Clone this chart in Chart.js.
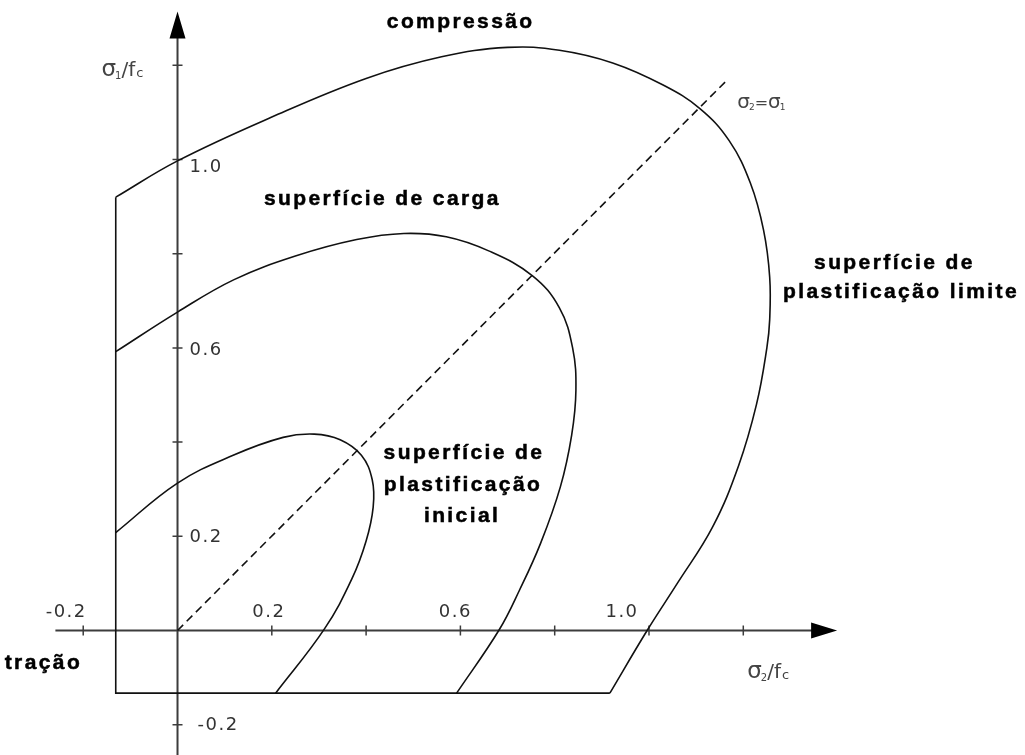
<!DOCTYPE html>
<html>
<head>
<meta charset="utf-8">
<title>Superfícies de plastificação do concreto</title>
<script src="https://cdn.jsdelivr.net/npm/chart.js@4/dist/chart.umd.min.js"></script>
<style>
  html, body { margin: 0; padding: 0; background: #ffffff; }
  #wrap { width: 1025px; height: 755px; position: relative; }
</style>
</head>
<body>
<div id="wrap"><canvas id="chart"></canvas></div>
<script>
// Normalized stresses: x = σ2/fc, y = σ1/fc

// superfície de plastificação limite
const limitX = [-0.131, 0, 0.200, 0.400, 0.560, 0.700, 0.810, 0.923, 1.030, 1.108, 1.170, 1.215, 1.243, 1.256, 1.256, 1.250, 1.228, 1.190, 1.135, 1.060, 0.996, 0.917];
const limitY = [0.920, 0.997, 1.090, 1.172, 1.218, 1.238, 1.232, 1.205, 1.158, 1.108, 1.040, 0.950, 0.850, 0.750, 0.660, 0.600, 0.480, 0.350, 0.220, 0.100, 0.000, -0.133];

// superfície de carga
const loadX = [-0.131, 0, 0.120, 0.250, 0.380, 0.480, 0.570, 0.660, 0.753, 0.810, 0.838, 0.845, 0.836, 0.812, 0.770, 0.725, 0.682, 0.592];
const loadY = [0.592, 0.676, 0.745, 0.795, 0.830, 0.843, 0.836, 0.806, 0.753, 0.685, 0.600, 0.510, 0.415, 0.305, 0.185, 0.085, 0.001, -0.133];

// superfície de plastificação inicial
const initialX = [-0.131, 0, 0.118, 0.224, 0.290, 0.345, 0.390, 0.413, 0.415, 0.400, 0.370, 0.312, 0.208];
const initialY = [0.208, 0.313, 0.372, 0.410, 0.417, 0.405, 0.372, 0.320, 0.262, 0.190, 0.110, 0.004, -0.133];

// tension cut-off shared by all surfaces
const cutoffX = [-0.131, -0.131, 0.917];
const cutoffY = [0.920, -0.133, -0.133];

// σ2 = σ1 line
const diagonalX = [0, 1.168];
const diagonalY = [0, 1.171];

// axes
const xAxisSpan = [-0.259, 1.399];
const yAxisSpan = [-0.27, 1.314];
const xTickValues = [-0.2, 0.2, 0.4, 0.6, 0.8, 1.0, 1.2];
const yTickValues = [-0.2, 0.2, 0.4, 0.6, 0.8, 1.0, 1.2];
const xLabelValues = [-0.2, 0.2, 0.6, 1.0];
const xLabelTexts = ['-0.2', '0.2', '0.6', '1.0'];
const yLabelValues = [-0.2, 0.2, 0.6, 1.0];
const yLabelTexts = ['-0.2', '0.2', '0.6', '1.0'];

// region / surface names
const noteTexts = ['compressão', 'superfície de carga', 'superfície de', 'plastificação limite',
                   'superfície de', 'plastificação', 'inicial', 'tração'];
const noteX = [0.598, 0.432, 1.518, 1.532, 0.605, 0.603, 0.601, -0.287];
const noteY = [1.279, 0.903, 0.768, 0.706, 0.364, 0.296, 0.230, -0.082];

function pts(xs, ys) { return xs.map((v, i) => ({ x: v, y: ys[i] })); }

const INK = '#111111';

const curve = (label, xs, ys) => ({
  label, data: pts(xs, ys), showLine: true, borderColor: INK, borderWidth: 1.6,
  pointRadius: 0, tension: 0.4, fill: false
});

// hand-drawn style axes with arrows, ticks and labels
const axesPlugin = {
  id: 'crossAxes',
  beforeDatasetsDraw(chart) {
    const { ctx, scales: { x, y } } = chart;
    const x0 = x.getPixelForValue(0), y0 = y.getPixelForValue(0);
    ctx.save();
    ctx.strokeStyle = '#3c3c3c';
    ctx.lineWidth = 2;
    const xa = x.getPixelForValue(xAxisSpan[0]), xb = x.getPixelForValue(xAxisSpan[1]);
    const ya = y.getPixelForValue(yAxisSpan[0]), yb = y.getPixelForValue(yAxisSpan[1]);
    ctx.beginPath();
    ctx.moveTo(xa, y0); ctx.lineTo(xb - 20, y0);
    ctx.moveTo(x0, ya); ctx.lineTo(x0, yb + 20);
    ctx.stroke();
    ctx.fillStyle = '#000';
    ctx.beginPath();
    ctx.moveTo(xb, y0); ctx.lineTo(xb - 26, y0 - 8); ctx.lineTo(xb - 26, y0 + 8); ctx.closePath();
    ctx.moveTo(x0, yb); ctx.lineTo(x0 - 8, yb + 27); ctx.lineTo(x0 + 8, yb + 27); ctx.closePath();
    ctx.fill();

    ctx.lineWidth = 1.5;
    ctx.beginPath();
    xTickValues.forEach(v => { const px = x.getPixelForValue(v); ctx.moveTo(px, y0 - 5); ctx.lineTo(px, y0 + 5); });
    yTickValues.forEach(v => { const py = y.getPixelForValue(v); ctx.moveTo(x0 - 5, py); ctx.lineTo(x0 + 5, py); });
    ctx.stroke();

    ctx.fillStyle = '#333';
    ctx.font = '18px "DejaVu Sans"';
    ctx.letterSpacing = '1.5px';
    ctx.textAlign = 'center';
    ctx.textBaseline = 'alphabetic';
    const xNudge = [-17, -3, -5, -27];
    xLabelValues.forEach((v, i) => {
      ctx.fillText(xLabelTexts[i], x.getPixelForValue(v) + xNudge[i], y0 - 14);
    });
    ctx.textAlign = 'left';
    ctx.textBaseline = 'middle';
    const yNudgeX = [20, 12, 12, 12];
    const yNudgeY = [1, 1, 2, 8];
    yLabelValues.forEach((v, i) => {
      ctx.fillText(yLabelTexts[i], x0 + yNudgeX[i], y.getPixelForValue(v) + yNudgeY[i]);
    });
    ctx.restore();
  },
  afterDatasetsDraw(chart) {
    const { ctx, scales: { x, y } } = chart;
    ctx.save();
    ctx.fillStyle = '#000';
    ctx.strokeStyle = '#000';
    ctx.lineWidth = 0.5;
    ctx.textBaseline = 'alphabetic';
    ctx.font = 'bold 21px "Liberation Sans"';
    ctx.letterSpacing = '2.4px';
    ctx.textAlign = 'left';
    noteTexts.forEach((t, i) => {
      const w = ctx.measureText(t).width - 2.4;
      const left = x.getPixelForValue(noteX[i]) - w / 2;
      const base = y.getPixelForValue(noteY[i]);
      ctx.fillText(t, left, base);
      ctx.strokeText(t, left, base);
    });

    // axis names with subscripts
    ctx.letterSpacing = '0px';
    ctx.fillStyle = '#444';
    const drawParts = (parts, px, py) => {
      let cx = px;
      parts.forEach(p => {
        ctx.font = p[1] + 'px "DejaVu Sans"';
        ctx.fillText(p[0], cx, py + p[2]);
        cx += ctx.measureText(p[0]).width + (p[3] || 0);
      });
    };
    const x0 = x.getPixelForValue(0), y0 = y.getPixelForValue(0);
    drawParts([['σ', 23, 0, -1], ['1', 10, 3, 0], ['/f', 20, 0, 1], ['c', 13, 1]], x0 - 76, y.getPixelForValue(1.2) + 11);
    drawParts([['σ', 23, 0, -1], ['2', 10, 3, 0], ['/f', 20, 0, 1], ['c', 13, 1]], x.getPixelForValue(1.2) + 4, y0 + 47);
    drawParts([['σ', 20, 0, -1], ['2', 9, 2, 0], ['=', 16, 0, 0], ['σ', 20, 0, -1], ['1', 9, 2]],
              x.getPixelForValue(1.2) - 6, y.getPixelForValue(1.2) + 43);
    ctx.restore();
  }
};

new Chart(document.getElementById('chart'), {
  type: 'scatter',
  data: {
    datasets: [
      curve('superfície de plastificação limite', limitX, limitY),
      curve('superfície de carga', loadX, loadY),
      curve('superfície de plastificação inicial', initialX, initialY),
      { label: 'tração', data: pts(cutoffX, cutoffY), showLine: true, borderColor: INK,
        borderWidth: 1.6, pointRadius: 0, tension: 0 },
      { label: 'σ2=σ1', data: pts(diagonalX, diagonalY), showLine: true, borderColor: INK,
        borderWidth: 1.6, borderDash: [8, 5], pointRadius: 0, tension: 0 }
    ]
  },
  options: {
    responsive: true,
    maintainAspectRatio: false,
    animation: false,
    layout: { padding: 0 },
    plugins: { legend: { display: false }, tooltip: { enabled: false } },
    scales: {
      x: { type: 'linear', display: false, min: -0.3765, max: 1.7975 },
      y: { type: 'linear', display: false, min: -0.2643, max: 1.3386 }
    }
  },
  plugins: [axesPlugin]
});
</script>
</body>
</html>
